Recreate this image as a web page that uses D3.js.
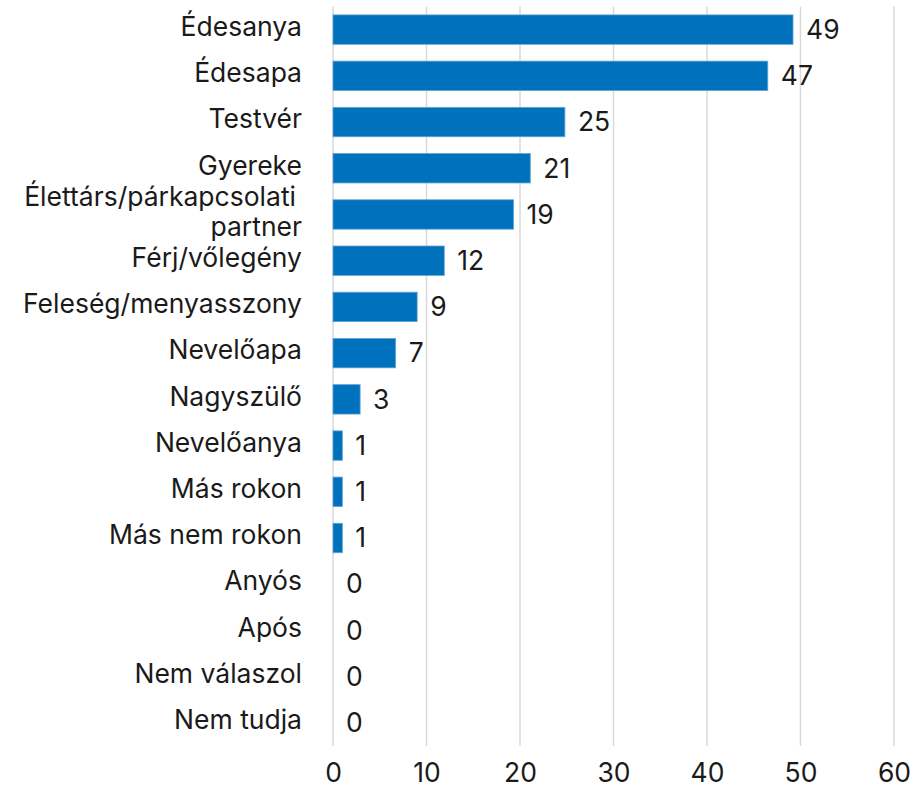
<!DOCTYPE html>
<html>
<head>
<meta charset="utf-8">
<script src="https://cdn.jsdelivr.net/npm/d3@7"></script>
<style>
  body { margin: 0; background: #fff; }
  text { font-family: Inter, "Noto Sans", sans-serif; fill: #1a1a1a; }
</style>
</head>
<body>
<div class="chart"></div>
<script>
// categories top to bottom
const categories = ["Édesanya", "Édesapa", "Testvér", "Gyereke", "Élettárs/párkapcsolati partner",
  "Férj/vőlegény", "Feleség/menyasszony", "Nevelőapa", "Nagyszülő", "Nevelőanya",
  "Más rokon", "Más nem rokon", "Anyós", "Após", "Nem válaszol", "Nem tudja"];
const values = [49.2, 46.5, 24.8, 21.1, 19.3, 11.9, 9.0, 6.7, 2.9, 1, 1, 1, 0, 0, 0, 0];
const xTicks = [0, 10, 20, 30, 40, 50, 60];

const fontSize = "26.5px";

const margin = { top: 6.5, right: 29, bottom: 41, left: 333 },
  width = 923 - margin.left - margin.right,
  height = 787 - margin.top - margin.bottom;

const svg = d3.select(".chart")
  .append("svg")
  .attr("width", width + margin.left + margin.right)
  .attr("height", height + margin.top + margin.bottom)
  .append("g")
  .attr("transform", `translate(${margin.left},${margin.top})`);

const x = d3.scaleLinear().domain([0, 60]).range([0, width]);
const y = d3.scaleBand().domain(categories).range([0, height]).paddingInner(0.364).paddingOuter(0.182);

// gridlines
svg.selectAll(".grid")
  .data(xTicks)
  .join("line")
  .attr("x1", d => x(d)).attr("x2", d => x(d))
  .attr("y1", 0).attr("y2", height)
  .attr("stroke", "#d9d9d9")
  .attr("stroke-width", 1.5);

// x axis
const xAxis = svg.append("g")
  .attr("transform", `translate(0, ${height})`)
  .call(d3.axisBottom(x).tickValues(xTicks).tickSize(0).tickPadding(17));
xAxis.select(".domain").remove();
xAxis.selectAll("text")
  .style("font-size", fontSize)
  .style("font-family", "Inter, sans-serif")
  .attr("fill", "#1a1a1a");

// bars
svg.selectAll(".bar")
  .data(values)
  .join("rect")
  .attr("x", 0)
  .attr("y", (d, i) => y(categories[i]))
  .attr("width", d => x(d))
  .attr("height", y.bandwidth())
  .attr("fill", "#0071bc")
  .attr("stroke", d => d > 0 ? "#5fa3d6" : "none")
  .attr("stroke-width", 0.8);

// value labels
svg.selectAll(".val")
  .data(values)
  .join("text")
  .attr("x", d => x(d) + 13)
  .attr("y", (d, i) => y(categories[i]) + y.bandwidth() / 2 + 2)
  .attr("dominant-baseline", "middle")
  .style("font-size", fontSize)
  .text(d => Math.round(d));

// category labels
const lab = svg.selectAll(".cat")
  .data(categories)
  .join("text")
  .attr("text-anchor", "end")
  .attr("x", -31)
  .attr("y", d => y(d) + y.bandwidth() / 2 - 1)
  .attr("dominant-baseline", "middle")
  .style("font-size", fontSize);

lab.each(function (d) {
  const t = d3.select(this);
  if (d.startsWith("Élettárs")) {
    t.append("tspan").attr("x", -37).attr("dy", "-0.55em").text("Élettárs/párkapcsolati");
    t.append("tspan").attr("x", -31).attr("dy", "1.15em").text("partner");
  } else {
    t.text(d);
  }
});
</script>
</body>
</html>
